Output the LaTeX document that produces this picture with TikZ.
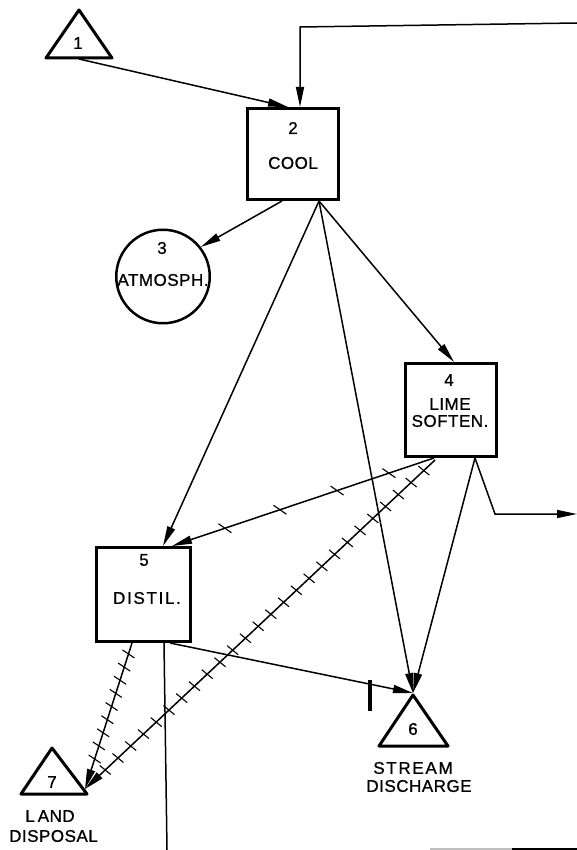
\documentclass[tikz,border=0pt]{standalone}
\usepackage{fontspec}
\setmainfont{Liberation Sans}
\newfontfamily\lblfont[LetterSpace=3,FakeBold=0.9]{Liberation Sans}
\newfontfamily\widefont[LetterSpace=10,FakeBold=0.9]{Liberation Sans}
\usetikzlibrary{arrows.meta,calc}

\begin{document}
\begin{tikzpicture}[x=1pt,y=-1pt,
  unit box/.style={draw,line width=3pt,inner sep=0pt},
  sink/.style={draw,line width=3pt,line join=round},
  txt/.style={inner sep=0pt,font=\fontsize{17}{17}\selectfont\lblfont},
  wtxt/.style={inner sep=0pt,font=\fontsize{17}{17}\selectfont\widefont},
  flow/.style={line width=1.5pt,-{Triangle[length=20pt,width=8pt]}},
  plain/.style={line width=1.5pt},
  tick/.style={line width=1.1pt}]
\useasboundingbox (0,0) rectangle (577,850);

% source / sink triangles
\draw[sink] (46,58) -- (79,10) -- (112,58) -- cycle;
\node[txt] (t1num) at (78,43) {1};
\coordinate (t1) at (79,59);

\draw[sink] (379,746) -- (413,695) -- (448,746) -- cycle;
\node[txt] (t6num) at (413,729) {6};
\node[wtxt] (t6a) at (413,768) {STREAM};
\node[txt] (t6b) at (419,786) {DISCHARGE};
\coordinate (t6) at (413,693);

\draw[sink] (21,794) -- (52,748) -- (87,794) -- cycle;
\node[txt] (t7num) at (52,782) {7};
\node[txt] (t7a) at (50,816) {L\hspace{3pt}AND};
\node[txt] (t7b) at (53.5,836) {DISPOSAL};
\coordinate (t7) at (85,789);

% process units
\node[unit box,minimum width=91pt,minimum height=91pt] (b2) at (293,154) {};
\node[txt] (b2num) at (293,128) {2};
\node[txt] (b2name) at (293,163) {COOL};

\node[draw,circle,line width=2.5pt,minimum size=93.5pt,inner sep=0pt] (c3) at (163,276.5) {};
\node[txt] (c3num) at (162,248) {3};
\node[txt] (c3name) at (163,280) {ATMOSPH.};

\node[unit box,minimum width=91pt,minimum height=93pt] (b4) at (451,410) {};
\node[txt] (b4num) at (449,380) {4};
\node[txt] (b4a) at (450,404) {LIME};
\node[txt] (b4b) at (450,421) {SOFTEN.};

\node[unit box,minimum width=94pt,minimum height=94pt] (b5) at (143.5,594.5) {};
\node[txt] (b5num) at (144,560) {5};
\node[wtxt] (b5name) at (147,598) {DISTIL.};

% plain flows
\coordinate (fb) at (577,23);
\coordinate (fbc) at (300,27);
\draw[flow] (fb) -- (fbc) -- ($(b2.north)+(7,0)$);
\draw[flow] (t1) -- ($(b2.north)+(-5,0)$);

\coordinate (b2o) at ($(b2.south)+(26,0)$);
\draw[flow] ($(b2.south)+(-11,0)$) -- (c3.38);
\draw[flow] (b2o) -- ($(b5.north)+(19.5,0)$);
\draw[flow] (b2o) -- (t6);
\draw[flow] (b2o) -- ($(b4.north)+(3,0)$);

\coordinate (b4o) at ($(b4.south)+(24,0)$);
\coordinate (b4k) at (495,514);
\coordinate (out4) at (577,514);
\draw[flow] (b4o) -- (t6);
\draw[flow] (b4o) -- (b4k) -- (out4);

\draw[flow] ($(b5.south)+(26.5,0)$) -- (t6);
\coordinate (down5) at (167,850);
\draw[plain] ($(b5.south)+(20.5,0)$) -- (down5);

% hatched flows
\coordinate (h1s) at ($(b4.south)+(-17,0)$);
\coordinate (h1e) at ($(b5.north)+(28.5,0)$);
\draw[flow] (h1s) -- (h1e);
\foreach \t in {0.172,0.370,0.588,0.798}
  \draw[tick] ($(h1s)!\t!(h1e)$) +(-6.5,-4.5) -- +(6.5,4.5);

\coordinate (h2s) at ($(b4.south)+(-16,2)$);
\draw[flow] (h2s) -- (t7);
\foreach \i [evaluate=\i as \t using 0.032+0.0364*\i] in {0,...,25}
  \draw[tick] ($(h2s)!\t!(t7)$) +(-5.5,-4.5) -- +(5.5,4.5);

\coordinate (h3s) at ($(b5.south)+(-11.5,0)$);
\draw[flow] (h3s) -- (t7);
\foreach \i [evaluate=\i as \t using 0.075+0.09*\i] in {0,...,8}
  \draw[tick] ($(h3s)!\t!(t7)$) +(-6,-4) -- +(6,4);

% valve bar near the stream outfall
\coordinate (vb1) at (370,680);
\coordinate (vb2) at (370,711);
\draw[line width=4pt] (vb1) -- (vb2);

% sheet edge at the foot
\coordinate (e1) at (430,849);
\coordinate (e2) at (512,849);
\coordinate (e3) at (577,849);
\draw[line width=1.5pt,gray!50] (e1) -- (e2);
\draw[line width=1.5pt] (e2) -- (e3);
\end{tikzpicture}
\end{document}
